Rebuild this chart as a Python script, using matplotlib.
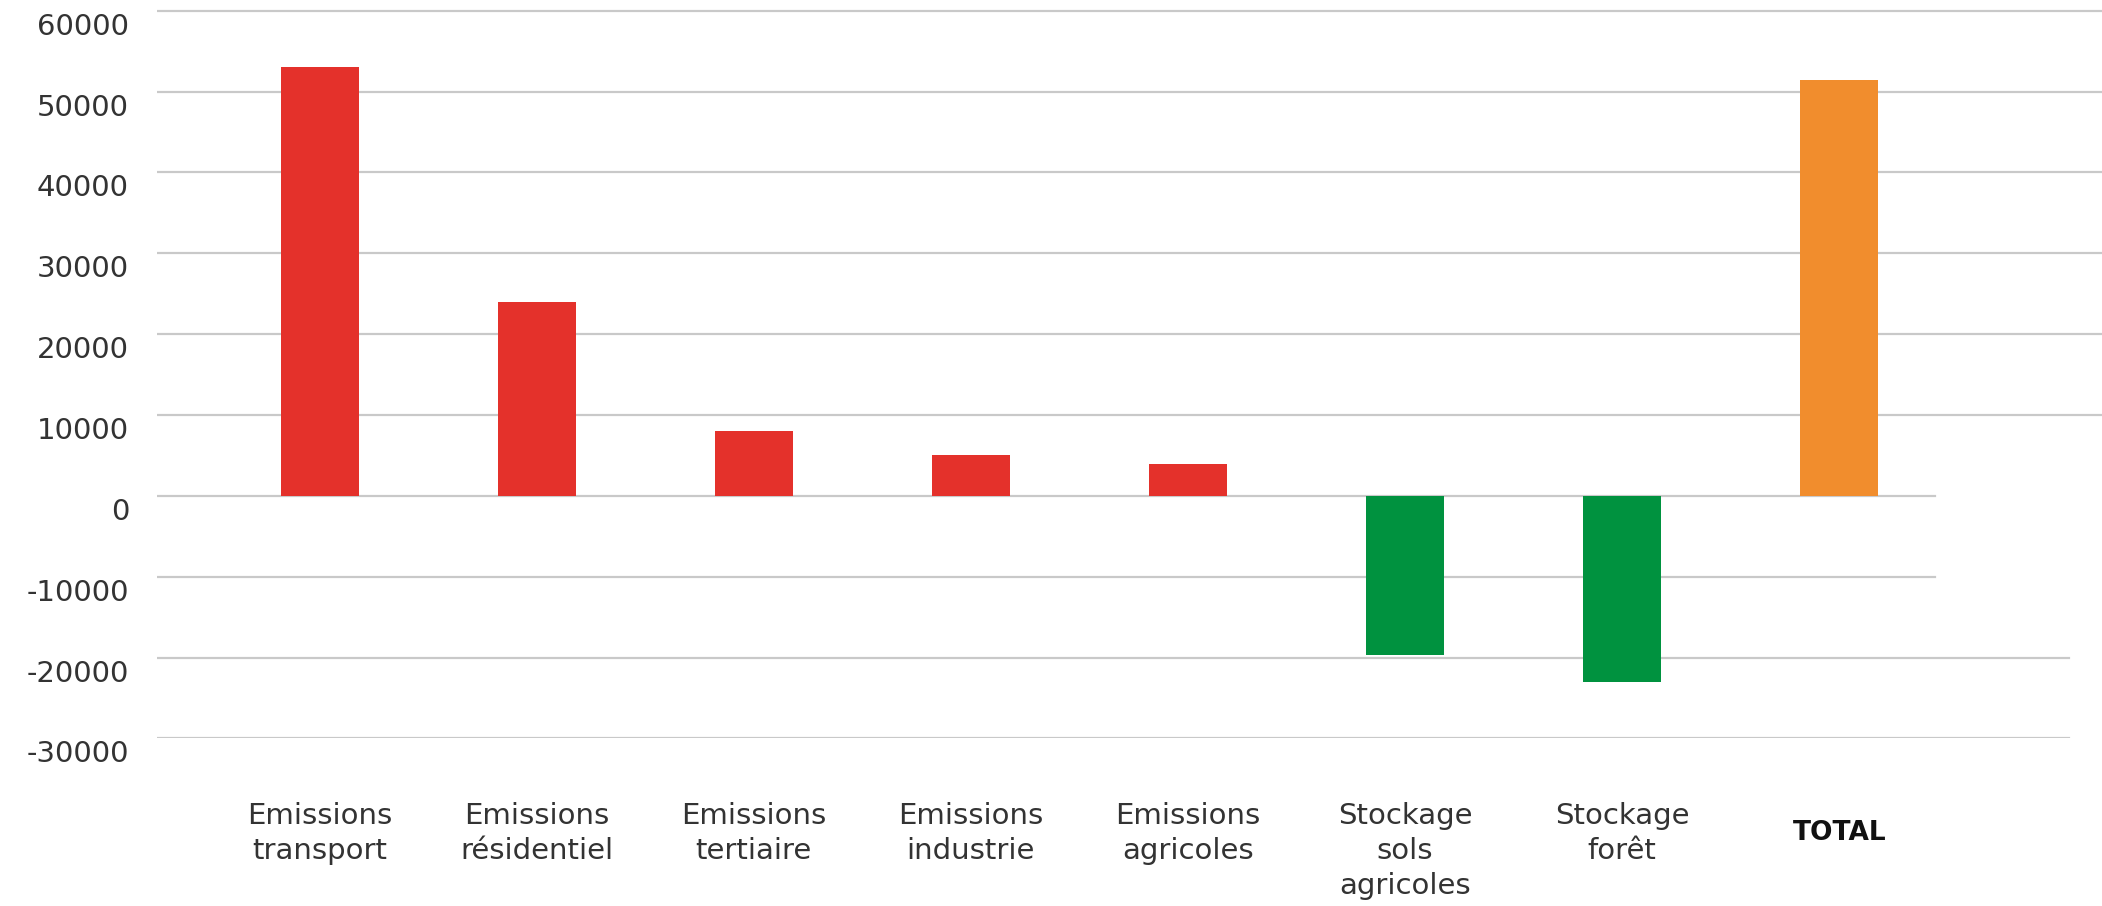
import matplotlib.pyplot as plt
import matplotlib.transforms as mtransforms
import numpy as np

# ── Data ───────────────────────────────────────────────────────────────────────
categories = ['Emissions\ntransport', 'Emissions\nrésidentiel', 'Emissions\ntertiaire',
              'Emissions\nindustrie', 'Emissions\nagricoles', 'Stockage\nsols\nagricoles',
              'Stockage\nforêt', 'TOTAL']
values = [53000, 24000, 8000, 5000, 4000, -19700, -23000, 51400]
kinds = ['emission', 'emission', 'emission', 'emission', 'emission', 'stock', 'stock', 'total']
y_ticks = [60000, 50000, 40000, 30000, 20000, 10000, 0, -10000, -20000, -30000]

# ── Style ──────────────────────────────────────────────────────────────────────
COLORS = {'emission': '#E4312B', 'stock': '#00923F', 'total': '#F18D2D'}
GRID_COLOR = '#c9c9c9'
TEXT_COLOR = '#333333'
# right end of each gridline (axes fraction), the picture has uneven lines
grid_xmax = {-30000: 0.983, -20000: 0.983, -10000: 0.914, 0: 0.914}

plt.rcParams['font.family'] = ['DejaVu Sans']

fig = plt.figure(figsize=(21.02, 9.06), dpi=100)
ax = fig.add_axes([0.0746, 0.1849, 0.9254, 0.8151])

x = np.arange(len(categories))
ax.bar(x, values, width=0.36, color=[COLORS[k] for k in kinds], zorder=3)

for t in y_ticks:
    ax.axhline(t, xmin=0, xmax=grid_xmax.get(t, 1.0), color=GRID_COLOR,
               linewidth=1.6, zorder=1)

ax.set_xlim(-0.75, 8.21)
ax.set_ylim(-30000, 61330)
ax.set_yticks(y_ticks)
ax.set_yticklabels([str(t) for t in y_ticks])
ax.set_xticks(x)
ax.set_xticklabels(categories, linespacing=1.32)
ax.tick_params(axis='y', length=0, pad=20, labelsize=21, labelcolor=TEXT_COLOR)
ax.tick_params(axis='x', length=0, pad=46, labelsize=21, labelcolor=TEXT_COLOR)

# TOTAL is bold and sits halfway down the two-line labels
total_lbl = ax.get_xticklabels()[-1]
total_lbl.set_fontweight('bold')
total_lbl.set_fontsize(19)
total_lbl.set_color('#111111')
total_lbl.set_transform(total_lbl.get_transform() +
                        mtransforms.ScaledTranslation(0, -0.18, fig.dpi_scale_trans))

# y labels sit a little below their gridlines
offset = mtransforms.ScaledTranslation(0, -0.13, fig.dpi_scale_trans)
for lbl in ax.get_yticklabels():
    lbl.set_transform(lbl.get_transform() + offset)

for s in ax.spines.values():
    s.set_visible(False)

fig.savefig('out.png', dpi=100)
